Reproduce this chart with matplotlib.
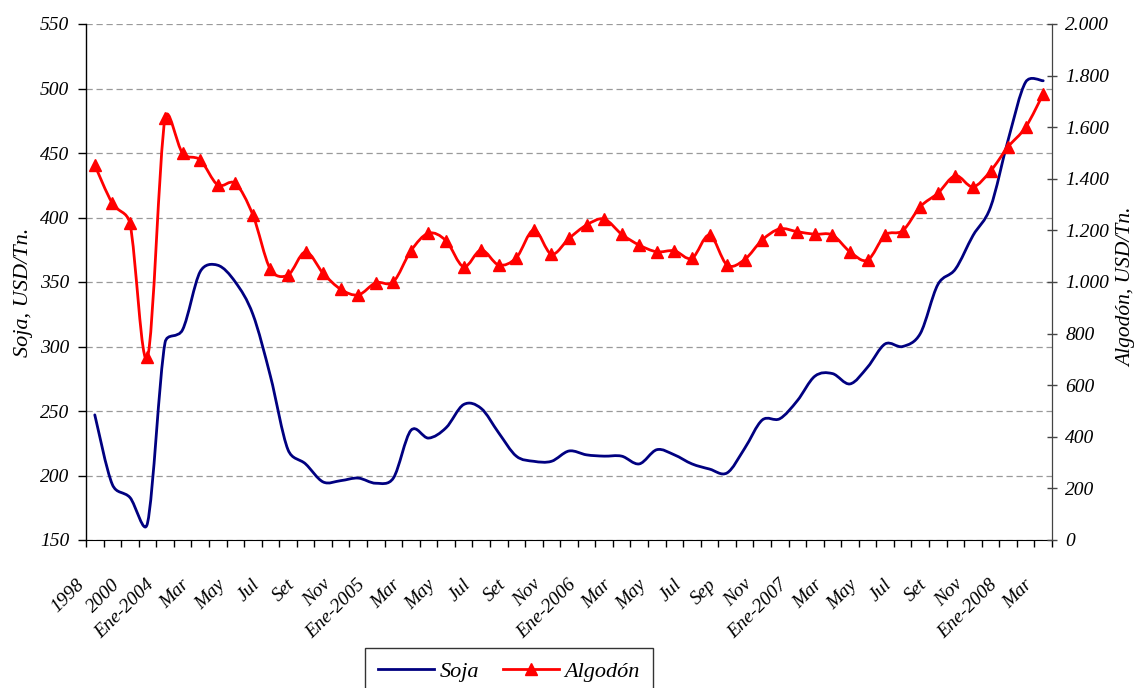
import numpy as np
import matplotlib.pyplot as plt
from matplotlib.path import Path
from matplotlib.patches import PathPatch
from matplotlib.lines import Line2D
from matplotlib.ticker import FuncFormatter
from matplotlib.transforms import ScaledTranslation

plt.rcParams['font.family'] = ['Liberation Serif', 'DejaVu Serif']
plt.rcParams['font.style'] = 'italic'

# --- CATEGORÍAS (años y luego meses) ---
meses = ['Feb', 'Mar', 'Abr', 'May', 'Jun', 'Jul', 'Ago', 'Set', 'Oct', 'Nov', 'Dic']
meses_2006 = ['Feb', 'Mar', 'Abr', 'May', 'Jun', 'Jul', 'Ago', 'Sep', 'Oct', 'Nov', 'Dic']
periodos = (['1998', '1999', '2000', '2003']
            + ['Ene-2004'] + meses
            + ['Ene-2005'] + meses
            + ['Ene-2006'] + meses_2006
            + ['Ene-2007'] + meses
            + ['Ene-2008', 'Feb', 'Mar'])

# --- PRECIOS (USD/Tn) ---
soja = [247, 193, 183, 163, 303, 313, 358, 363, 350, 325,
        277, 220, 209, 195, 196, 198, 194, 198, 235, 229,
        237, 255, 252, 233, 215, 211, 211, 219, 216, 215,
        215, 209, 220, 216, 209, 205, 202, 221, 243, 244,
        258, 277, 279, 271, 284, 302, 300, 310, 348, 360,
        386, 408, 460, 505, 506]

algodon = [1453, 1305, 1227, 708, 1634, 1499, 1473, 1376, 1382, 1260,
           1049, 1027, 1117, 1034, 972, 950, 997, 1001, 1121, 1189,
           1160, 1059, 1124, 1066, 1094, 1202, 1108, 1169, 1221, 1244,
           1185, 1143, 1117, 1121, 1092, 1182, 1066, 1087, 1163, 1206,
           1195, 1185, 1182, 1117, 1085, 1182, 1199, 1292, 1344, 1412,
           1369, 1430, 1524, 1600, 1729]


def curva_suave(x, y, sx, sy, k=0.5):
    # Bezier suavizado que pasa por cada punto; los puntos de control se
    # calculan en pixeles y se limitan a k veces el largo del tramo
    pts = np.column_stack([np.asarray(x) * sx, np.asarray(y) * sy]).astype(float)
    n = len(pts)
    verts = [pts[0]]
    codes = [Path.MOVETO]
    for i in range(n - 1):
        p0 = pts[max(i - 1, 0)]
        p1 = pts[i]
        p2 = pts[i + 1]
        p3 = pts[min(i + 2, n - 1)]
        largo = np.hypot(*(p2 - p1))
        t1 = (p2 - p0) / 6
        t2 = (p3 - p1) / 6
        for t in (t1, t2):
            d = np.hypot(*t)
            if d > k * largo and d > 0:
                t *= k * largo / d
        verts += [p1 + t1, p2 - t2, p2]
        codes += [Path.CURVE4] * 3
    verts = np.array(verts) / [sx, sy]
    return Path(verts, codes)


W, H = 1141, 688
fig = plt.figure(figsize=(W / 100, H / 100), dpi=100)
ax = fig.add_axes([86 / W, (H - 540) / H, (1052 - 86) / W, 516 / H])
ax2 = ax.twinx()

x = np.arange(len(periodos))
azul = '#000080'
rojo = '#ff0000'

# escala en pixeles por unidad de cada eje
px_x = (1052 - 86) / len(periodos)
px_soja = 516 / 400
px_alg = 516 / 2000

ax.add_patch(PathPatch(curva_suave(x, soja, px_x, px_soja), fill=False, edgecolor=azul,
                       lw=2.0, capstyle='round', joinstyle='round', zorder=3))
ax2.add_patch(PathPatch(curva_suave(x, algodon, px_x, px_alg), fill=False, edgecolor=rojo,
                        lw=2.0, capstyle='round', joinstyle='round', zorder=3))
ax2.plot(x, algodon, linestyle='none', marker='^', color=rojo, markersize=8, zorder=4)

# ejes
ax.set_xlim(-0.5, len(periodos) - 0.5)
ax.set_ylim(150, 550)
ax.set_yticks(np.arange(150, 551, 50))
ax2.set_ylim(0, 2000)
ax2.set_yticks(np.arange(0, 2001, 200))
ax2.yaxis.set_major_formatter(FuncFormatter(lambda v, p: f'{int(v):,}'.replace(',', '.')))

ax.set_xticks(x[::2])
ax.set_xticklabels(periodos[::2], rotation=45, ha='right', va='top',
                   rotation_mode='anchor')
ax.set_xticks(np.arange(-0.5, len(periodos), 1), minor=True)
ax.tick_params(axis='x', which='major', length=0, pad=8, labelsize=14)
ax.tick_params(axis='x', which='minor', length=5, width=1, color='black', direction='out')
ax.tick_params(axis='y', length=6, width=1, labelsize=14, direction='out', pad=6)
ax2.tick_params(axis='y', length=7, width=1, labelsize=14, direction='inout', pad=6,
                color='#444444')

desplazo = ScaledTranslation(-0.19, -0.25, fig.dpi_scale_trans)
for lab in ax.get_xticklabels():
    lab.set_transform(lab.get_transform() + desplazo)

for a in (ax, ax2):
    a.spines['top'].set_visible(False)
ax.spines['left'].set_linewidth(1)
ax2.spines['right'].set_color('#444444')
ax2.spines['left'].set_visible(False)
ax2.spines['bottom'].set_visible(False)

ax.grid(axis='y', linestyle=(0, (5, 3)), color='#9a9a9a', linewidth=0.9)
ax.set_axisbelow(True)

ax.set_ylabel('Soja, USD/Tn.', fontsize=16)
ax.yaxis.set_label_coords(-0.055, 0.48)
ax2.set_ylabel('Algodón, USD/Tn.', fontsize=15.5)
ax2.yaxis.set_label_coords(1.067, 0.49)

handles = [Line2D([], [], color=azul, lw=2.0),
           Line2D([], [], color=rojo, lw=2.0, marker='^', markersize=8)]
fig.legend(handles, ['Soja', 'Algodón'], loc='upper left',
           bbox_to_anchor=(365 / W, 1 - 648 / H), ncol=2, fontsize=16,
           frameon=True, fancybox=False, edgecolor='#333333', framealpha=1,
           handlelength=2.5, handletextpad=0.25, columnspacing=1.1,
           borderpad=0.6, borderaxespad=0)

fig.savefig('out.png', dpi=100)
